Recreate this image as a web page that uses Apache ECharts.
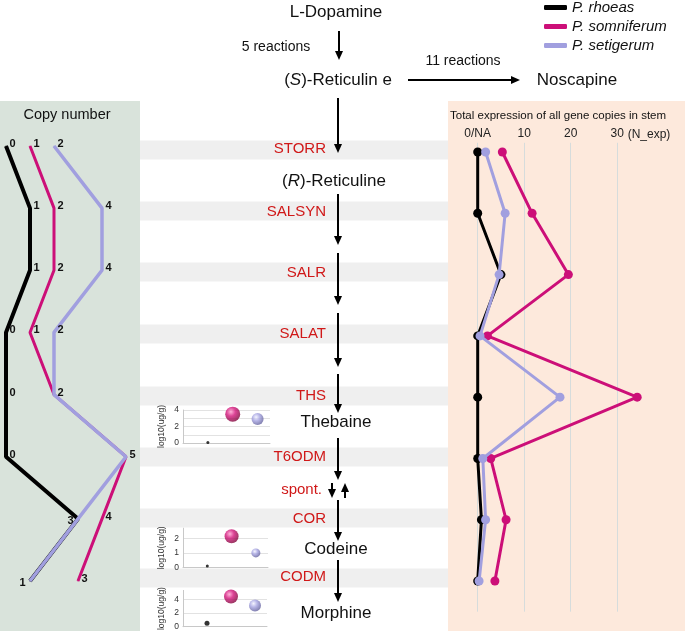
<!DOCTYPE html>
<html>
<head>
<meta charset="utf-8">
<script src="https://cdn.jsdelivr.net/npm/echarts@6/dist/echarts.min.js"></script>
<style>
  html, body { margin: 0; padding: 0; background: #fff; }
  #main { width: 685px; height: 631px; }
</style>
</head>
<body>
<div id="main"></div>
<script>
// data
var species = ['P. rhoeas', 'P. somniferum', 'P. setigerum'];
var enzymes = ['STORR', 'SALSYN', 'SALR', 'SALAT', 'THS', 'T6ODM', 'COR', 'CODM'];

// copy number per enzyme
var copyRhoeas     = [0, 1, 1, 0, 0, 0, 3, 1];
var copySomniferum = [1, 2, 2, 1, 2, 5, 4, 3];
var copySetigerum  = [2, 4, 4, 2, 2, 5, 3, 1];

// total expression of all gene copies in stem (N_exp)
var expRhoeas     = [0, 0, 5.0, 0, 0, 0, 0.8, 0];
var expSomniferum = [5.3, 11.7, 19.5, 2.1, 34.3, 2.8, 6.1, 3.7];
var expSetigerum  = [1.7, 5.9, 4.6, 0.5, 17.7, 1.1, 1.7, 0.3];

// alkaloid content, log10(ug/g), order = species
var thebaine = [0.05, 3.5, 2.9];
var codeine  = [0.1, 2.15, 1.0];
var morphine = [0.5, 4.4, 3.1];

var FONT = '"Liberation Sans", Arial, sans-serif';
var colors = ['#000000', '#cc0f78', '#a19fdf'];

var chart = echarts.init(document.getElementById('main'));

// ---- drawing of the pathway (not data) ----
var g = [];
g.push({ type: 'rect', z: -10, shape: { x: 0, y: 101, width: 140, height: 530 }, style: { fill: '#d9e3db' } });
g.push({ type: 'rect', z: -10, shape: { x: 448, y: 101, width: 237, height: 530 }, style: { fill: '#fde9dc' } });

var bandY = [150, 211, 272, 334, 396, 457, 518, 578];
bandY.forEach(function (y) {
  g.push({ type: 'rect', z: -9, shape: { x: 140, y: y - 9.5, width: 308, height: 19 }, style: { fill: '#efefef' } });
});

function txt(s, x, y, opt) {
  var st = { text: s, x: x, y: y, fill: '#111', font: '17px ' + FONT, align: 'center', verticalAlign: 'middle' };
  for (var k in opt) st[k] = opt[k];
  g.push({ type: 'text', z: 5, style: st });
}
function vArrow(x, y1, y2) {
  var d = y2 > y1 ? 1 : -1;
  g.push({ type: 'line', z: 5, shape: { x1: x, y1: y1, x2: x, y2: y2 - d * 8 }, style: { stroke: '#000', lineWidth: 2 } });
  g.push({ type: 'polygon', z: 5, shape: { points: [[x - 4, y2 - d * 9], [x + 4, y2 - d * 9], [x, y2]] }, style: { fill: '#000' } });
}

txt('L-Dopamine', 336, 12);
txt('5 reactions', 276, 47, { font: '14px ' + FONT });
vArrow(339, 31, 60);
txt('({i|S})-Reticulin e', 338, 80, { rich: { i: { fontStyle: 'italic', fontSize: 17, fontFamily: FONT } } });
g.push({ type: 'line', z: 5, shape: { x1: 408, y1: 80, x2: 512, y2: 80 }, style: { stroke: '#000', lineWidth: 2 } });
g.push({ type: 'polygon', z: 5, shape: { points: [[511, 76], [511, 84], [520, 80]] }, style: { fill: '#000' } });
txt('11 reactions', 463, 61, { font: '14px ' + FONT });
txt('Noscapine', 577, 80);
vArrow(338, 98, 153);
txt('({i|R})-Reticuline', 334, 181, { rich: { i: { fontStyle: 'italic', fontSize: 17, fontFamily: FONT } } });
vArrow(338, 194, 245);
vArrow(338, 253, 305);
vArrow(338, 313, 367);
vArrow(338, 374, 413);
txt('Thebaine', 336, 422);
vArrow(338, 438, 480);
vArrow(332, 483, 498);
vArrow(345, 498, 483);
vArrow(338, 500, 541);
txt('Codeine', 336, 549);
vArrow(338, 560, 602);
txt('Morphine', 336, 613);

var labelY = [149, 212, 273, 334, 396, 457, 519, 577];
enzymes.forEach(function (e, i) {
  txt(e, 326, labelY[i], { fill: '#d01818', font: '15px ' + FONT, align: 'right' });
});
txt('spont.', 322, 490, { fill: '#d01818', font: '15px ' + FONT, align: 'right' });

txt('Copy number', 67, 115, { font: '14.5px ' + FONT });
txt('Total expression of all gene copies in stem', 450, 116, { font: '11.5px ' + FONT, align: 'left' });
txt('(N_exp)', 649, 135, { font: '12px ' + FONT, fill: '#222' });

// ---- series ----
var series = [];
var copyData = [copyRhoeas, copySomniferum, copySetigerum];
var copyLabelSide = [
  ['right', 'right', 'right', 'right', 'right', 'right', 'left', 'left'],
  ['right', 'right', 'right', 'right', '', '', 'right', 'right'],
  ['right', 'right', 'right', 'right', 'right', 'right', '', '']
];
var copyWidth = [4, 3, 3.5];
copyData.forEach(function (arr, k) {
  series.push({
    type: 'line', name: species[k], xAxisIndex: 0, yAxisIndex: 0, z: 3 + k,
    symbol: 'circle', symbolSize: 1, animation: false,
    lineStyle: { width: copyWidth[k], color: colors[k] },
    itemStyle: { color: colors[k] },
    data: arr.map(function (v, i) {
      var side = copyLabelSide[k][i];
      return {
        value: [v, i],
        label: {
          show: !!side, position: side || 'right', distance: 4,
          offset: side === 'left' ? [0, 2] : [-1, -2],
          formatter: function (p) { return String(p.value[0]); },
          fontSize: 11, fontWeight: 'bold', color: '#111', fontFamily: FONT
        }
      };
    })
  });
});

var expData = [expRhoeas, expSomniferum, expSetigerum];
expData.forEach(function (arr, k) {
  series.push({
    type: 'line', name: species[k], xAxisIndex: 1, yAxisIndex: 1, z: 3 + k,
    symbol: 'circle', symbolSize: 9, showSymbol: true, animation: false,
    lineStyle: { width: 3, color: colors[k] },
    itemStyle: { color: colors[k] },
    data: arr.map(function (v, i) { return [v, i]; })
  });
});

function sphere(c0, c1, c2) {
  return { type: 'radial', x: 0.38, y: 0.34, r: 0.66,
    colorStops: [{ offset: 0, color: c0 }, { offset: 0.45, color: c1 }, { offset: 1, color: c2 }] };
}
var sphereColor = [
  '#000000',
  sphere('#ff9fcf', '#d3147b', '#85073f'),
  sphere('#f2f2ff', '#a6a4e2', '#66649f')
];
var bubbleData = [thebaine, codeine, morphine];
var bubbleSize = [[3, 15, 12], [3, 14, 9], [5, 14, 12]];
bubbleData.forEach(function (arr, c) {
  series.push({
    type: 'scatter', xAxisIndex: 2 + c, yAxisIndex: 2 + c, animation: false,
    data: arr.map(function (v, i) {
      return { value: [i + 1, v], symbolSize: bubbleSize[c][i], itemStyle: { color: sphereColor[i] } };
    })
  });
});

// ---- axes ----
var grids = [
  { left: 6, top: 146, width: 132, height: 435 },
  { left: 477.7, top: 142.8, width: 167.4, height: 468.9 },
  { left: 183, top: 410, width: 87, height: 33 },
  { left: 183, top: 528.2, width: 85, height: 39.2 },
  { left: 183, top: 590.4, width: 84, height: 36.3 }
];
grids.forEach(function (gr) { gr.outerBoundsMode = 'none'; gr.containLabel = false; });

var xAxes = [
  { type: 'value', gridIndex: 0, min: 0, max: 5.5, show: false },
  {
    type: 'value', gridIndex: 1, position: 'top', min: 0, max: 36, interval: 10,
    axisLine: { show: false }, axisTick: { show: false },
    axisLabel: { fontSize: 12, color: '#222', margin: 3, fontFamily: FONT, showMaxLabel: false,
      formatter: function (v) { return v === 0 ? '0/NA' : (v % 10 === 0 ? String(v) : ''); } },
    splitLine: { show: true, showMaxLine: false, lineStyle: { color: '#d6dcdc', width: 1 } }
  }
];
var yAxes = [
  { type: 'value', gridIndex: 0, min: 0, max: 7, inverse: true, show: false },
  { type: 'value', gridIndex: 1, min: -0.15, max: 7.5, inverse: true, show: false }
];
var bubbleMax = [4, 2.7, 5.3];
var bubbleStep = [1, 1, 2];
var bubbleLabelStep = [2, 1, 2];
for (var c = 0; c < 3; c++) {
  xAxes.push({
    type: 'value', gridIndex: 2 + c, min: 0, max: 3.5,
    axisLine: { show: true, lineStyle: { color: '#c8c8c8', width: 1 } },
    axisTick: { show: false }, axisLabel: { show: false }, splitLine: { show: false }
  });
  (function (ls, mx) {
    yAxes.push({
      type: 'value', gridIndex: 2 + c, min: 0, max: mx, interval: bubbleStep[c],
      name: 'log10(ug/g)', nameLocation: 'middle', nameGap: 17,
      nameTextStyle: { fontSize: 8.5, color: '#333', fontFamily: FONT },
      axisLine: { show: true, lineStyle: { color: '#c8c8c8', width: 1 } },
      axisTick: { show: false },
      axisLabel: { fontSize: 8.5, color: '#333', margin: 4, fontFamily: FONT,
        formatter: function (v) { return (Math.abs(v / ls - Math.round(v / ls)) < 1e-6) ? String(v) : ''; } },
      splitLine: { show: true, showMaxLine: mx % 1 === 0, lineStyle: { color: '#e2e2e2', width: 1 } }
    });
  })(bubbleLabelStep[c], bubbleMax[c]);
}

chart.setOption({
  animation: false,
  backgroundColor: '#ffffff',
  textStyle: { fontFamily: FONT },
  legend: {
    orient: 'vertical', left: 539, top: -5, itemWidth: 23, itemHeight: 5, itemGap: 4,
    icon: 'roundRect',
    textStyle: { fontSize: 15, fontStyle: 'italic', color: '#111', fontFamily: FONT },
    data: species
  },
  grid: grids,
  xAxis: xAxes,
  yAxis: yAxes,
  graphic: g,
  series: series
});
</script>
</body>
</html>
